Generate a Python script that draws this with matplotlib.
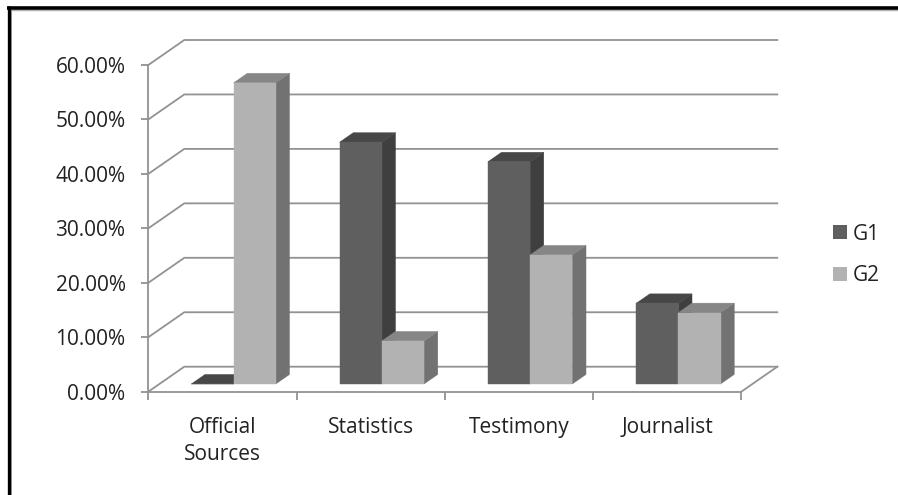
import matplotlib
matplotlib.use("Agg")
import matplotlib.pyplot as plt
from matplotlib.lines import Line2D
from matplotlib.patches import Patch, Polygon

categories = ["Official\nSources", "Statistics", "Testimony", "Journalist"]
series_names = ["G1", "G2"]
g1_values = [0.0, 44.4, 40.8, 14.8]
g2_values = [55.3, 7.9, 23.7, 13.1]
y_ticks = [0, 10, 20, 30, 40, 50, 60]
y_tick_labels = ["0.00%", "10.00%", "20.00%", "30.00%", "40.00%", "50.00%", "60.00%"]

FIG_W, FIG_H = 898, 495
LINE_COLOR = "#929292"
TEXT_COLOR = "#222222"
FONT_SIZE = 15
G1_COLORS = ("#5f5f5f", "#474747", "#3f3f3f")  # front, top, side
G2_COLORS = ("#b2b2b2", "#868686", "#727272")

# oblique offset of the back wall, in data units
DEPTH_X = 36 / 148.25
DEPTH_Y = 25 / 5.445
BAR_WIDTH = 0.285
BAR_GAP = 0.215
BAR_FRONT, BAR_BACK = 0.31, 0.69

plt.rcParams["font.family"] = ["Open Sans", "DejaVu Sans"]


def project(x, y, depth):
    return x + depth * DEPTH_X, y + depth * DEPTH_Y


def draw_bar(ax, x0, value, colors):
    x1 = x0 + BAR_WIDTH
    front = [project(x0, 0, BAR_FRONT), project(x1, 0, BAR_FRONT),
             project(x1, value, BAR_FRONT), project(x0, value, BAR_FRONT)]
    top = [project(x0, value, BAR_FRONT), project(x1, value, BAR_FRONT),
           project(x1, value, BAR_BACK), project(x0, value, BAR_BACK)]
    side = [project(x1, 0, BAR_FRONT), project(x1, 0, BAR_BACK),
            project(x1, value, BAR_BACK), project(x1, value, BAR_FRONT)]
    for pts, color in zip((side, top, front), (colors[2], colors[1], colors[0])):
        ax.add_patch(Polygon(pts, closed=True, facecolor=color, edgecolor=color,
                             linewidth=0.3, clip_on=False, zorder=3))


def frame_line(fig, xs, ys, color, width):
    # xs, ys in pixels from the top left corner
    fig.add_artist(Line2D([x / FIG_W for x in xs], [1 - y / FIG_H for y in ys],
                          transform=fig.transFigure, color=color, linewidth=width,
                          solid_capstyle="butt"))


fig = plt.figure(figsize=(FIG_W / 100, FIG_H / 100), dpi=100)

# black rule on the top and left only, each with a thin grey line inside it
frame_line(fig, [10.7, FIG_W], [10, 10], "#b0b0b0", 1.0)
frame_line(fig, [11, 11], [10, FIG_H], "#a8a8a8", 1.4)
frame_line(fig, [6.5, FIG_W], [7.5, 7.5], "black", 2.6)
frame_line(fig, [8.5, 8.5], [6, FIG_H], "black", 2.4)

ax = fig.add_axes([148.3 / FIG_W, (FIG_H - 391.7) / FIG_H, 593 / FIG_W, 326.7 / FIG_H])
ax.set_xlim(0, len(categories))
ax.set_ylim(0, 60)
ax.patch.set_visible(False)

for side in ("top", "right"):
    ax.spines[side].set_visible(False)
for side in ("left", "bottom"):
    ax.spines[side].set_color(LINE_COLOR)
    ax.spines[side].set_linewidth(1.3)

# gridlines run along the back wall and fold forward to the axis
n_cat = len(categories)
for tick in y_ticks:
    xs, ys = zip(project(0, tick, 0), project(0, tick, 1), project(n_cat, tick, 1))
    ax.plot(xs, ys, color=LINE_COLOR, linewidth=1.3, clip_on=False, zorder=1)
xs, ys = zip(project(n_cat, 0, 0), project(n_cat, 0, 1))
ax.plot(xs, ys, color=LINE_COLOR, linewidth=1.3, clip_on=False, zorder=1)

for i in range(n_cat):
    x0 = i + BAR_GAP
    draw_bar(ax, x0, g1_values[i], G1_COLORS)
    draw_bar(ax, x0 + BAR_WIDTH, g2_values[i], G2_COLORS)

ax.set_yticks(y_ticks)
ax.set_yticklabels(y_tick_labels, fontsize=FONT_SIZE, color=TEXT_COLOR)
ax.tick_params(axis="y", length=5.4, width=1.3, color=LINE_COLOR, pad=11)

ax.set_xticks(range(n_cat + 1))
ax.set_xticklabels([])
ax.tick_params(axis="x", which="major", length=5.4, width=1.3, color=LINE_COLOR)
ax.set_xticks([i + 0.5 for i in range(n_cat)], minor=True)
ax.set_xticklabels(categories, minor=True, fontsize=FONT_SIZE, color=TEXT_COLOR, linespacing=1.38)
ax.tick_params(axis="x", which="minor", length=0, pad=18)

handles = [Patch(facecolor=G1_COLORS[0], label=series_names[0]),
           Patch(facecolor=G2_COLORS[0], label=series_names[1])]
ax.legend(handles=handles, loc="center left", bbox_to_anchor=(833 / FIG_W, (FIG_H - 255) / FIG_H),
          bbox_transform=fig.transFigure, frameon=False, fontsize=FONT_SIZE, handlelength=0.66,
          handleheight=0.66, handletextpad=0.28, labelspacing=1.0, labelcolor=TEXT_COLOR,
          borderpad=0, borderaxespad=0)

fig.savefig("out.png", dpi=100)
